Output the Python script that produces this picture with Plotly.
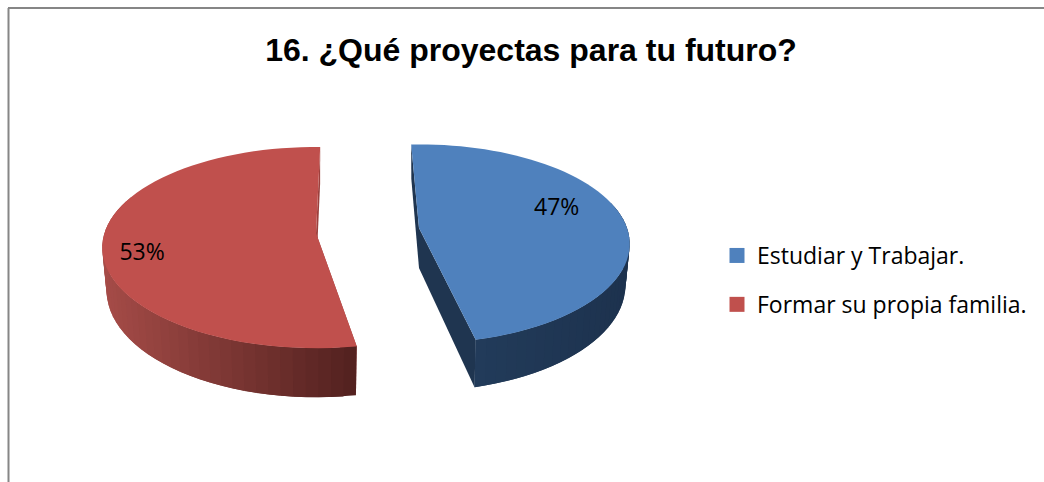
import math
import plotly.graph_objects as go

# --- data ---
TITLE = "16. ¿Qué proyectas para tu futuro?"
categories = ["Estudiar y Trabajar.", "Formar su propia familia."]
percent_values = [47, 53]

# --- styling / layout of the exploded 3-D pie ---
W, H = 1044, 482
TOP_COLORS = ["#4F81BD", "#C0504D"]
APEX = [(419, 228), (316, 233)]       # px position of each exploded slice's tip
RX = [208, 211.5]
RY = [97, 98.5]
PERSP = [0.16, 0.145]
DEPTH = [40, 42]
INSET = 0.02
START_DEG = [-2.5, 170.5]
WALL_LIGHT = [(36, 64, 96), (166, 76, 72)]
WALL_DARK = [(29, 50, 78), (84, 34, 32)]
CUT_COLOR = ["#1F3550", "#9C403D"]
LABEL_POLAR = [(74, 0.71), (255, 0.825)]
N = 64


def project(i, deg, r=1.0, down=0.0):
    t = math.radians(deg)
    X, Y = r * math.sin(t), -r * math.cos(t)
    s = 1 / (1 - PERSP[i] * Y)
    ax, ay = APEX[i]
    return (ax + RX[i] * X * s * (1 - INSET * down),
            ay + RY[i] * Y * s + down * DEPTH[i] * s)


def poly(points, color):
    xs = [p[0] for p in points] + [points[0][0]]
    ys = [p[1] for p in points] + [points[0][1]]
    return go.Scatter(x=xs, y=ys, mode="none", fill="toself", fillcolor=color,
                      hoverinfo="skip", showlegend=False)


fig = go.Figure()
for i, value in enumerate(percent_values):
    a0 = START_DEG[i]
    a1 = a0 + value * 3.6
    angles = [a0 + (a1 - a0) * k / N for k in range(N + 1)]
    xs_all = [project(i, a)[0] for a in angles]
    xmin, xmax = min(xs_all), max(xs_all)

    # cut faces; the top surface is drawn over them afterwards
    for a in (a0, a1):
        fig.add_trace(poly([project(i, a), project(i, a, r=0),
                            project(i, a, r=0, down=1), project(i, a, down=1)], CUT_COLOR[i]))

    # outer wall (front half only), shaded along its sweep; quads overlap so no seams appear
    for k in range(N):
        if math.cos(math.radians(angles[k])) > 0.3:
            continue
        end = angles[min(k + 2, N)]
        p, q = project(i, angles[k]), project(i, end)
        pb, qb = project(i, angles[k], down=1), project(i, end, down=1)
        f = 1 - (p[0] - xmin) / (xmax - xmin)
        c = [round(WALL_DARK[i][j] + (WALL_LIGHT[i][j] - WALL_DARK[i][j]) * f) for j in range(3)]
        fig.add_trace(poly([p, q, qb, pb], f"rgb({c[0]},{c[1]},{c[2]})"))

    # top surface
    fig.add_trace(poly([project(i, a0, r=0)] + [project(i, a) for a in angles], TOP_COLORS[i]))

# percent labels
lx, ly = zip(*[project(i, *LABEL_POLAR[i]) for i in range(len(percent_values))])
fig.add_trace(go.Scatter(x=list(lx), y=list(ly), mode="text",
                         text=[f"{v}%" for v in percent_values],
                         textposition="middle center",
                         textfont=dict(family="Open Sans", size=23, color="#000000"),
                         hoverinfo="skip", showlegend=False))

# legend entries
for name, color in zip(categories, TOP_COLORS):
    fig.add_trace(go.Scatter(x=[None], y=[None], mode="markers", name=name, legendgroup=name,
                             marker=dict(symbol="square", size=15, color=color)))

fig.update_layout(
    width=W, height=H,
    margin=dict(l=0, r=0, t=0, b=0),
    paper_bgcolor="white", plot_bgcolor="white",
    title=dict(text=TITLE, x=531 / W, xanchor="center", y=1 - 50 / H, yanchor="middle",
               font=dict(family="Liberation Sans", size=32, color="#000000", weight="bold")),
    xaxis=dict(range=[0, W], visible=False, fixedrange=True),
    yaxis=dict(range=[H, 0], visible=False, fixedrange=True),
    legend=dict(x=717 / W, y=1 - 234 / H, xanchor="left", yanchor="top",
                yref="paper", bgcolor="rgba(0,0,0,0)", tracegroupgap=16,
                font=dict(family="Open Sans", size=23, color="#000000"), itemclick=False,
                itemdoubleclick=False),
    shapes=[
        dict(type="line", xref="paper", yref="paper", x0=8.5 / W, x1=8.5 / W, y0=0, y1=1 - 8 / H,
             line=dict(color="#868686", width=2)),
        dict(type="line", xref="paper", yref="paper", x0=8 / W, x1=1, y0=1 - 8 / H, y1=1 - 8 / H,
             line=dict(color="#868686", width=2)),
    ],
)

fig.write_html("out.html", config={"displayModeBar": False},
               post_script="document.body.style.margin='0';document.body.style.overflow='hidden';")
